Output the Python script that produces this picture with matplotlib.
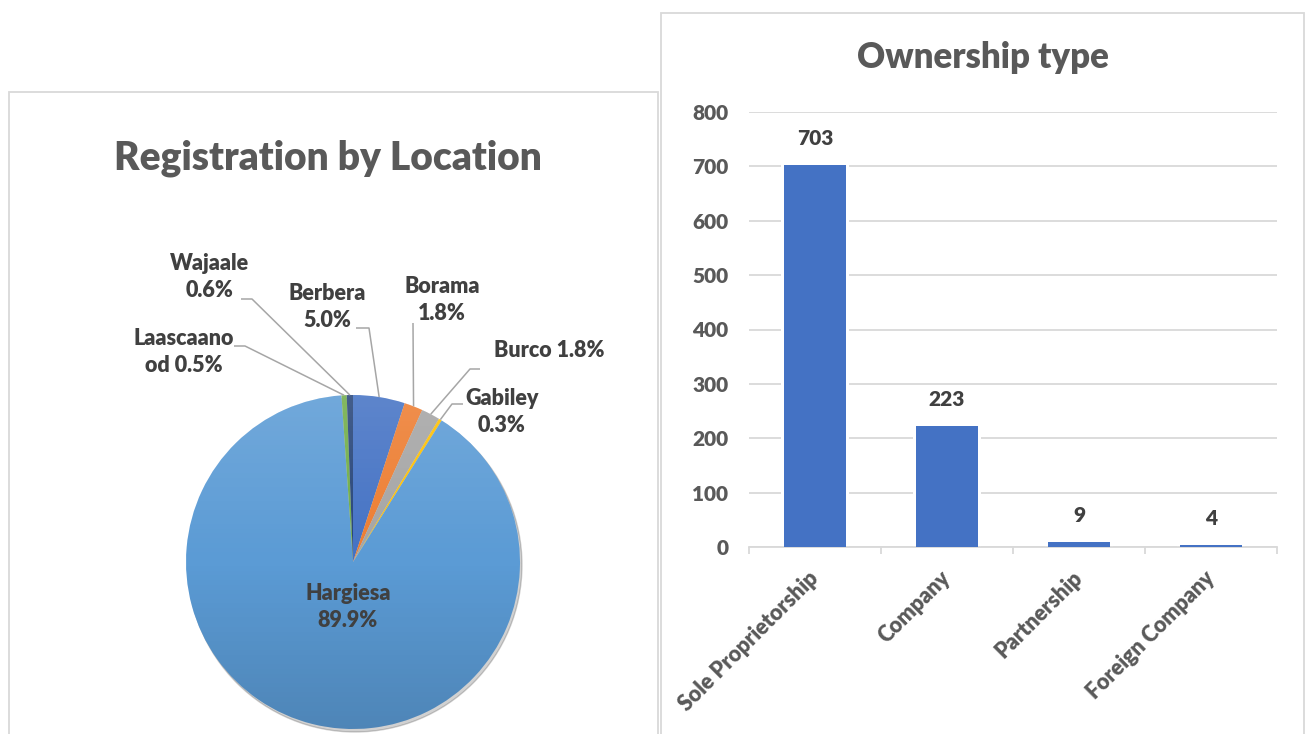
import numpy as np
import matplotlib.pyplot as plt
from matplotlib.patches import Rectangle, Circle

plt.rcParams['font.family'] = ['Lato', 'DejaVu Sans']
plt.rcParams['font.weight'] = 'heavy'
WT = 'heavy'

# pie data
locations = ['Berbera', 'Borama', 'Burco', 'Gabiley', 'Hargiesa', 'Laascaanood', 'Wajaale']
location_pct = [5.0, 1.8, 1.8, 0.3, 89.9, 0.5, 0.6]
pie_colors = ['#4472C4', '#ED7D31', '#A5A5A5', '#FFC000', '#5B9BD5', '#70AD47', '#264478']
pie_labels = ['Berbera\n5.0%', 'Borama\n1.8%', 'Burco 1.8%', 'Gabiley\n0.3%',
              'Hargiesa\n89.9%', 'Laascaano\nod 0.5%', 'Wajaale\n0.6%']

# bar data
owner_types = ['Sole Proprietorship', 'Company', 'Partnership', 'Foreign Company']
owner_counts = [703, 223, 9, 4]

W, H = 1306, 734
fig = plt.figure(figsize=(W / 100, H / 100), dpi=100)


def fx(px):
    return px / W


def fy(py):
    return 1 - py / H


# panel frames
border = '#D9D9D9'
fig.patches.append(Rectangle((fx(9), fy(740)), fx(649), fy(92) - fy(740),
                             transform=fig.transFigure, fill=False, ec=border, lw=1.3))
fig.patches.append(Rectangle((fx(661), fy(740)), fx(643), fy(13) - fy(740),
                             transform=fig.transFigure, fill=False, ec=border, lw=1.3))

# ---- pie ----
cx, cy, r = 353, 562, 167
ax1 = fig.add_axes([fx(10), 0, fx(648), fy(92)])

shadow = Circle((0.012, -0.018), 1.0, color='#000000', alpha=0.18, zorder=0)
ax1.add_patch(shadow)
wedges, _ = ax1.pie(location_pct, colors=pie_colors, startangle=90, counterclock=False,
                    radius=1.0, center=(0, 0), frame=True,
                    wedgeprops=dict(linewidth=0))
ax1.set_aspect('equal')
ax1.axis('off')

# soft vertical shading over the pie
t = np.linspace(0, 1, 200)
grad = np.zeros((200, 2, 4))
grad[:, :, :3] = np.where(t < 0.5, 1.0, 0.0)[:, None, None]
grad[:, :, 3] = (np.abs(t - 0.5) * 0.28)[:, None]
img = ax1.imshow(grad, extent=(-1, 1, -1, 1), origin='upper', aspect='auto', zorder=3)
img.set_clip_path(Circle((0, 0), 1.0, transform=ax1.transData))
ax1.set_xlim((10 - cx) / r, (658 - cx) / r)
ax1.set_ylim((cy - 734) / r, (cy - 92) / r)

# label positions (pixel layout) and leader elbows
label_pos = {
    'Berbera': (327, 307), 'Borama': (442, 300), 'Burco': (549, 351),
    'Gabiley': (502, 412), 'Hargiesa': (348, 607), 'Laascaanood': (184, 352),
    'Wajaale': (210, 277),
}
leader = {
    'Berbera': [(356, 328), (369, 328)],
    'Borama': [(413, 323)],
    'Burco': [(480, 369), (470, 369)],
    'Gabiley': [(463, 404), (452, 404)],
    'Laascaanood': [(234, 346), (245, 346)],
    'Wajaale': [(241, 299), (252, 299)],
}


def to_data(p):
    return ((p[0] - cx) / r, (cy - p[1]) / r)


for w, name, lab in zip(wedges, locations, pie_labels):
    x, y = to_data(label_pos[name])
    ax1.text(x, y, lab, ha='center', va='center', fontsize=15.5, color='#404040',
             fontweight=WT, linespacing=1.38, zorder=5)
    if name in leader:
        ang = np.deg2rad((w.theta1 + w.theta2) / 2)
        pts = [to_data(p) for p in leader[name]] + [(np.cos(ang), np.sin(ang))]
        xs, ys = zip(*pts)
        ax1.plot(xs, ys, color='#A6A6A6', lw=1.1, zorder=4, solid_capstyle='butt')

fig.text(fx(328), fy(158), 'Registration by Location', ha='center', va='center',
         fontsize=28, color='#595959', fontweight=WT)

# ---- bars ----
ax2 = fig.add_axes([fx(749), fy(547), fx(1277) - fx(749), fy(112) - fy(547)])
xpos = np.arange(len(owner_types))
ax2.bar(xpos, owner_counts, width=0.515, color='white', zorder=2)
bars = ax2.bar(xpos, owner_counts, width=0.47, color='#4472C4', zorder=3)
ax2.set_xlim(-0.5, len(owner_types) - 0.5)
ax2.set_ylim(0, 800)
ax2.set_yticks(np.arange(0, 801, 100))
ax2.grid(axis='y', color=border, lw=1.3, zorder=0)
for s in ['top', 'right', 'left']:
    ax2.spines[s].set_visible(False)
ax2.spines['bottom'].set_color(border)
ax2.spines['bottom'].set_linewidth(1.3)
ax2.tick_params(axis='y', length=0, pad=15, labelsize=15, labelcolor='#595959')
ax2.set_xticks(xpos)
ax2.set_xticklabels(owner_types, rotation=45, ha='right', va='center',
                    rotation_mode='anchor', fontsize=15.5, color='#595959')
ax2.tick_params(axis='x', length=0, pad=20)
ax2.set_xticks(np.arange(-0.5, len(owner_types)), minor=True)
ax2.tick_params(axis='x', which='minor', length=5, width=1.3, color=border, direction='out')
for lbl in ax2.get_yticklabels() + ax2.get_xticklabels():
    lbl.set_fontweight(WT)

for b, v in zip(bars, owner_counts):
    ax2.annotate(str(v), (b.get_x() + b.get_width() / 2, v), xytext=(0, 19),
                 textcoords='offset points', ha='center', va='center',
                 fontsize=15, color='#404040', fontweight=WT)

fig.text(fx(983), fy(57), 'Ownership type', ha='center', va='center',
         fontsize=25, color='#595959', fontweight=WT)

fig.savefig('out.png', dpi=100)
